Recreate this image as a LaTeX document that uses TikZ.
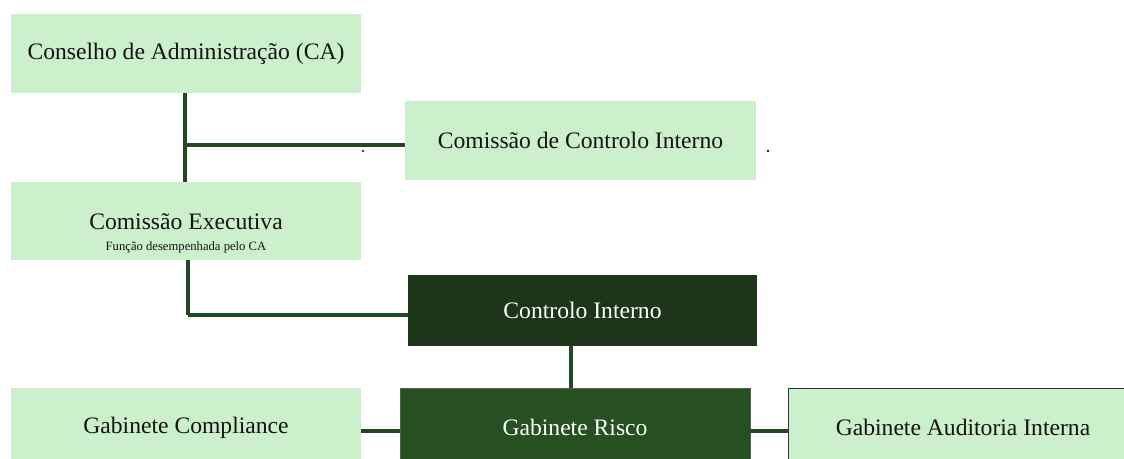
\documentclass[tikz,border=0pt]{standalone}
\usepackage{fontspec}
\setmainfont{Liberation Serif}
\usepackage{tikz}

\definecolor{paleGreen}{HTML}{CCEFCC}
\definecolor{nightGreen}{HTML}{1D3519}
\definecolor{forestGreen}{HTML}{264F22}
\definecolor{lineGreen}{HTML}{214A1E}
\definecolor{inkBlack}{HTML}{141414}

\begin{document}
\begin{tikzpicture}[every node/.style={rectangle, inner sep=0pt, text=inkBlack, minimum width=8.75cm, minimum height=1.975cm, font=\fontsize{16.8}{20}\selectfont},
  lightbox/.style={fill=paleGreen},
  darkbox/.style={fill=nightGreen, text=white},
  riskbox/.style={fill=forestGreen, text=white, draw=black!65, line width=.6pt},
  link/.style={draw=lineGreen, line width=2.8pt}]
  \useasboundingbox (0cm, 0cm) rectangle (28.1cm, 11.45cm);
  \clip (0cm, 0cm) rectangle (28.1cm, 11.45cm);
  \coordinate (j1) at (4.625cm, 7.825cm);
  \coordinate (j2) at (4.7cm, 3.575cm);
  \draw [link] (4.625cm, 10cm) -- (4.625cm, 6cm);
  \draw [link] (j2 |- 5cm, 5cm) -- (j2);
  \node [lightbox] (ca) at (4.65cm, 10.1cm) {Conselho de Administração (CA)};
  \node [lightbox, minimum width=8.775cm] (cci) at (14.5125cm, 7.9375cm) {Comissão de Controlo Interno};
  \node [lightbox, minimum height=1.95cm] (ce) at (4.65cm, 5.925cm) {\raisebox{0pt}[13pt][1.6pt]{\begin{tabular}[t]{@{}c@{}}Comissão Executiva\\[-5pt]{\fontsize{9}{10}\selectfont Função desempenhada pelo CA}\end{tabular}}};
  \node [darkbox, minimum width=8.725cm, minimum height=1.775cm] (ci) at (14.5625cm, 3.6875cm) {Controlo Interno};
  \node [lightbox] (gc) at (4.65cm, 0.7625cm) {Gabinete Compliance};
  \node [riskbox] (gr) at (14.375cm, 0.7625cm) {Gabinete Risco};
  \node [lightbox, draw=black!80, line width=.6pt] (ga) at (24.075cm, 0.7625cm) {Gabinete Auditoria Interna};
  \draw [link] (j1) -- (cci.west |- j1);
  \draw [link] (j2) -- (ci.west |- j2);
  \draw [link] ([xshift=-.1cm]gr.north) -- ([xshift=-.1cm]gr.north |- ci.south);
  \draw [link] ([yshift=-.09cm]gc.east) -- ([yshift=-.09cm]gr.west);
  \draw [link] ([yshift=-.09cm]gr.east) -- ([yshift=-.09cm]ga.west);
  \fill [lineGreen] (9.075cm, 7.675cm) circle (.035cm);
  \fill [inkBlack] (19.2cm, 7.675cm) circle (.035cm);
\end{tikzpicture}
\end{document}
